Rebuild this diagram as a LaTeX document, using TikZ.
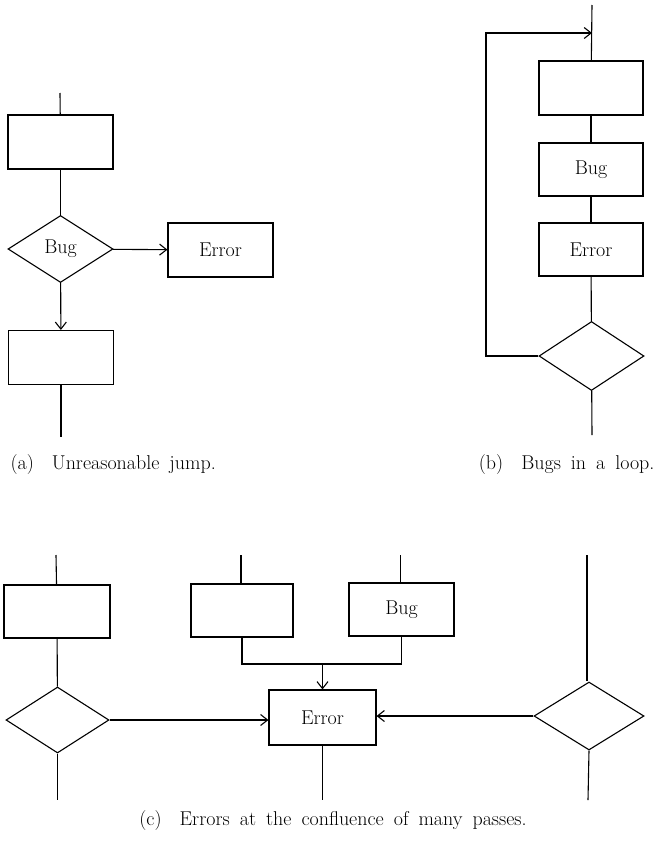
\documentclass[tikz,border=0pt]{standalone}
\usepackage{fontspec}
\usetikzlibrary{shapes.geometric,arrows.meta}
\newcommand\mycapfont{\fontsize{20}{24}\selectfont\addfontfeatures{LetterSpace=5}\spaceskip=10pt plus 2pt\relax}
\begin{document}
\begin{tikzpicture}[x=1pt,y=-1pt,
  line width=1.1pt,
  every node/.style={font=\fontsize{20}{24}\selectfont},
  box/.style={draw,rectangle,inner sep=0pt,minimum width=105pt,minimum height=54pt},
  dia/.style={draw,diamond,inner sep=0pt,minimum width=105pt,minimum height=67pt},
  arr/.style={-{Straight Barb[length=7pt,width=11pt,line width=1.1pt]}},
  captext/.style={inner sep=0pt}]
\useasboundingbox (0,0) rectangle (658,846);
% ---------- (a)
\coordinate (a0) at (60,93);
\node[box] (a1) at (60.5,142) {};
\node[dia] (ad) at (60.5,249) {Bug};
\node[box] (ae) at (220.5,250) {Error};
\node[box] (a2) at (61,357.5) {};
\coordinate (a3) at (61,437);
\draw (a0) -- (a1);
\draw (a1) -- (ad);
\draw[arr] (ad) -- (ae);
\draw[arr] (ad) -- (a2);
\draw (a2) -- (a3);
\node[captext,anchor=west] (capa) at (10,465) {\mycapfont (a)\hspace{18pt}Unreasonable jump.};
% ---------- (b)
\coordinate (b0) at (592,5);
\coordinate (bin) at (592,33);
\coordinate (bk) at (486,33);
\node[box,minimum width=104pt] (b1) at (591,88) {};
\node[box,minimum width=104pt,minimum height=53pt] (b2) at (591,169.5) {Bug};
\node[box,minimum width=104pt,minimum height=53pt] (b3) at (591,249.5) {Error};
\node[dia,minimum height=69pt] (bd) at (591.5,356) {};
\coordinate (b4) at (592,435);
\draw (b0) -- (b1);
\draw (b1) -- (b2);
\draw (b2) -- (b3);
\draw (b3) -- (bd);
\draw (bd) -- (b4);
\draw[arr] (bd.west) -| (bk) -- (bin);
\node[captext,anchor=east] (capb) at (655,465) {\mycapfont (b)\hspace{18pt}Bugs in a loop.};
% ---------- (c)
\coordinate (cL0) at (56,555);
\node[box,minimum width=106pt,minimum height=53pt] (cL1) at (57,611.5) {};
\node[dia,minimum width=103pt,minimum height=66pt] (cLd) at (57.5,720) {};
\coordinate (cL2) at (57.5,800);
\draw (cL0) -- (cL1);
\draw (cL1) -- (cLd);
\draw (cLd) -- (cL2);
\coordinate (cM0) at (241,555);
\node[box,minimum width=102pt,minimum height=53pt] (cM1) at (242,610.5) {};
\coordinate (cR0) at (400.5,555);
\node[box,minimum width=105pt,minimum height=53pt] (cR1) at (401.5,609.5) {Bug};
\draw (cM0) -- (cM0 |- cM1.north);
\draw (cR0) -- (cR0 |- cR1.north);
\node[box,minimum width=107pt,minimum height=55pt] (ce) at (322.5,717.5) {Error};
\coordinate (cj) at (322.5,664);
\draw (cM1.south) |- (cj) -| (cR1.south);
\draw[arr] (cj) -- (ce);
\coordinate (ce2) at (322.5,800);
\draw (ce) -- (ce2);
\coordinate (cR2) at (587,555);
\node[dia,minimum width=110pt,minimum height=68pt] (cRd) at (589,716) {};
\coordinate (cR3) at (588,800);
\draw (cR2) -- (cR2 |- cRd.north);
\draw (cRd.south) -- (cR3);
\draw[arr] (cLd.east) -- (cLd.east -| ce.west);
\draw[arr] (cRd.west) -- (cRd.west -| ce.east);
\node[captext] (capc) at (333,820) {\mycapfont (c)\hspace{18pt}Errors at the confluence of many passes.};
\end{tikzpicture}
\end{document}
